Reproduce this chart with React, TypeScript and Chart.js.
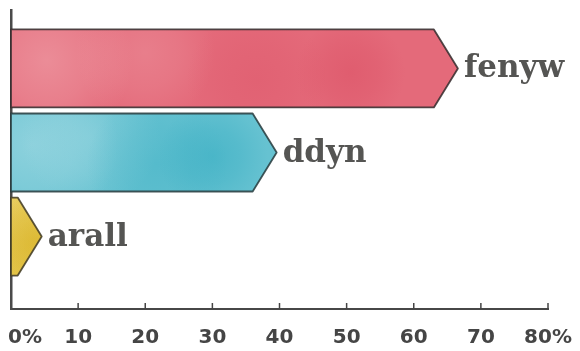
import React, { useEffect, useRef } from "react";
import { Chart, registerables } from "chart.js";

Chart.register(...registerables);

// Share of respondents by gender (percent)
const categories = ["fenyw", "ddyn", "arall"];
const shares = [63, 36, 1];

// Horizontal axis ticks
const tickValues = [0, 10, 20, 30, 40, 50, 60, 70, 80];
const tickLabels = ["0%", "10", "20", "30", "40", "50", "60", "70", "80%"];

// Paint-like fills for each bar
const palette = [
  { base: "#e46a7a", light: "#f0a3ab", dark: "#dc5266", edge: "#332a2b" },
  { base: "#66c2d1", light: "#a6dbe4", dark: "#36adc2", edge: "#26393c" },
  { base: "#e5c441", light: "#f3e291", dark: "#d6ae1c", edge: "#3f3a26" },
];

// Soft washes laid over each bar: [fx, fy, radius (x bar height), tint, alpha]
const washes: [number, number, number, "light" | "dark", number][] = [
  [0.08, 0.4, 1.1, "light", 0.6],
  [0.3, 0.3, 0.9, "light", 0.35],
  [0.55, 0.65, 0.9, "dark", 0.35],
  [0.76, 0.55, 0.7, "dark", 0.55],
];

const HEAD = 24;

function rgba(hex: string, a: number) {
  const n = parseInt(hex.slice(1), 16);
  return `rgba(${(n >> 16) & 255},${(n >> 8) & 255},${n & 255},${a})`;
}

const arrowBars = {
  id: "arrowBars",
  afterDatasetsDraw(chart: Chart) {
    const { ctx } = chart;
    const meta = chart.getDatasetMeta(0);
    meta.data.forEach((el: any, i: number) => {
      const { x, y, base, height } = el.getProps(["x", "y", "base", "height"], true);
      const top = y - height / 2;
      const bottom = y + height / 2;
      const tip = x + HEAD;
      const c = palette[i];
      const path = () => {
        ctx.beginPath();
        ctx.moveTo(base, top);
        ctx.lineTo(x, top);
        ctx.lineTo(tip, y);
        ctx.lineTo(x, bottom);
        ctx.lineTo(base, bottom);
        ctx.closePath();
      };
      ctx.save();
      path();
      ctx.fillStyle = c.base;
      ctx.fill();
      ctx.clip();
      const w = tip - base;
      washes.forEach(([fx, fy, fr, tint, a]) => {
        const cx = base + fx * w;
        const cy = top + fy * height;
        const r = fr * height;
        const col = tint === "light" ? c.light : c.dark;
        const g = ctx.createRadialGradient(cx, cy, 0, cx, cy, r);
        g.addColorStop(0, rgba(col, a));
        g.addColorStop(0.5, rgba(col, a * 0.6));
        g.addColorStop(1, rgba(col, 0));
        ctx.fillStyle = g;
        ctx.fillRect(cx - r, cy - r, r * 2, r * 2);
      });
      ctx.restore();

      ctx.save();
      path();
      ctx.lineWidth = 1.8;
      ctx.lineJoin = "round";
      ctx.strokeStyle = c.edge;
      ctx.globalAlpha = 0.85;
      ctx.stroke();
      ctx.restore();

      ctx.save();
      ctx.font = "bold 31px 'DejaVu Serif'";
      ctx.fillStyle = "#555553";
      ctx.textAlign = "left";
      ctx.textBaseline = "middle";
      ctx.fillText(categories[i], tip + 6, y + 1);
      ctx.restore();
    });
  },
  afterDraw(chart: Chart) {
    const { ctx, chartArea } = chart;
    const xs = chart.scales.x;
    ctx.save();
    ctx.strokeStyle = "#444";
    ctx.lineWidth = 1.5;
    ctx.fillStyle = "#454545";
    ctx.font = "bold 20px 'DejaVu Sans'";
    ctx.textBaseline = "middle";
    tickValues.forEach((v, i) => {
      const px = xs.getPixelForValue(v);
      if (i > 0) {
        ctx.beginPath();
        ctx.moveTo(px, chartArea.bottom - 6);
        ctx.lineTo(px, chartArea.bottom);
        ctx.stroke();
      }
      if (i === 0) {
        ctx.textAlign = "left";
        ctx.fillText(tickLabels[i], 8, 338);
      } else {
        ctx.textAlign = "center";
        ctx.fillText(tickLabels[i], px, 338);
      }
    });
    ctx.restore();
  },
};

export default function App() {
  const ref = useRef<HTMLCanvasElement | null>(null);

  useEffect(() => {
    if (!ref.current) return;
    const chart = new Chart(ref.current, {
      type: "bar",
      data: {
        datasets: [
          {
            data: shares.map((v, i) => ({ x: v, y: i })),
            backgroundColor: "rgba(0,0,0,0)",
            borderWidth: 0,
            barThickness: 78,
          },
        ],
      },
      options: {
        indexAxis: "y",
        animation: false,
        responsive: false,
        devicePixelRatio: 1,
        layout: { padding: { left: 3, top: 10, right: 32, bottom: 34 } },
        plugins: { legend: { display: false }, tooltip: { enabled: false } },
        scales: {
          x: {
            type: "linear",
            min: 0,
            max: 80,
            ticks: { display: false, stepSize: 10 },
            grid: { display: false },
            border: { display: true, color: "#474747", width: 2 },
          },
          y: {
            type: "linear",
            bounds: "data",
            offset: false,
            reverse: true,
            min: -0.695,
            max: 2.862,
            ticks: { display: false, includeBounds: false, stepSize: 1 },
            grid: { display: false, offset: false },
            border: { display: true, color: "#4a4a4a", width: 2.5 },
          },
        },
      },
      plugins: [arrowBars],
    });
    return () => chart.destroy();
  }, []);

  return (
    <div style={{ position: "fixed", left: 0, top: 0, width: 580, height: 351, background: "#fff" }}>
      <canvas ref={ref} width={580} height={351} style={{ display: "block" }} />
    </div>
  );
}
